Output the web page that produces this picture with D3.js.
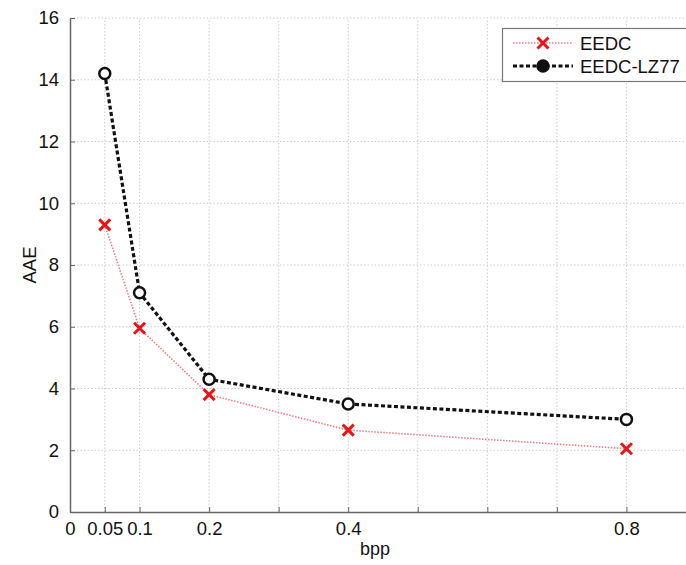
<!DOCTYPE html>
<html>
<head>
<meta charset="utf-8">
<script src="https://cdn.jsdelivr.net/npm/d3@7"></script>
<style>
  body { margin: 0; background: #fff; }
  text { font-family: Arial, "Liberation Sans", sans-serif; }
</style>
</head>
<body>
<div id="chart"></div>
<script>
const bpp = [0.05, 0.1, 0.2, 0.4, 0.8];
const eedc = [9.3, 5.95, 3.8, 2.65, 2.05];
const eedcLz77 = [14.2, 7.1, 4.3, 3.5, 3.0];
const xTicks = [0, 0.05, 0.1, 0.2, 0.3, 0.4, 0.5, 0.6, 0.7, 0.8, 0.9];
const xLabels = {0: "0", 0.05: "0.05", 0.1: "0.1", 0.2: "0.2", 0.4: "0.4", 0.8: "0.8"};
const yTicks = [0, 2, 4, 6, 8, 10, 12, 14, 16];
const seriesNames = ["EEDC", "EEDC-LZ77"];

const W = 686, H = 565;
const svg = d3.select("#chart").append("svg")
    .attr("width", W).attr("height", H);

const x = d3.scaleLinear().domain([0, 0.9]).range([70, 696]);
const y = d3.scaleLinear().domain([0, 16]).range([512, 18]);

// grid
svg.append("g").selectAll("line")
    .data(xTicks.filter(d => d > 0))
    .enter().append("line")
    .attr("x1", d => x(d)).attr("x2", d => x(d))
    .attr("y1", y(0)).attr("y2", y(16))
    .attr("stroke", "#ccc").attr("stroke-width", 1)
    .attr("stroke-dasharray", "1.5,2");

svg.append("g").selectAll("line")
    .data(yTicks.filter(d => d > 0))
    .enter().append("line")
    .attr("x1", x(0)).attr("x2", W)
    .attr("y1", d => y(d)).attr("y2", d => y(d))
    .attr("stroke", "#ccc").attr("stroke-width", 1)
    .attr("stroke-dasharray", "1.5,2");

// axes (ticks pointing inward)
const xAxis = svg.append("g")
    .attr("transform", `translate(0,${y(0)})`)
    .call(d3.axisBottom(x).tickValues(xTicks).tickSizeInner(-5).tickSizeOuter(0)
        .tickPadding(10).tickFormat(d => xLabels[d] !== undefined ? xLabels[d] : ""));
xAxis.attr("font-size", 18.5).attr("font-family", "Arial, 'Liberation Sans', sans-serif");
xAxis.select(".domain").attr("stroke", "#666").attr("stroke-width", 1.5);
xAxis.selectAll(".tick line").attr("stroke", "#666");
xAxis.selectAll(".tick text").attr("fill", "#111");

const yAxis = svg.append("g")
    .attr("transform", `translate(${x(0)},0)`)
    .call(d3.axisLeft(y).tickValues(yTicks).tickSizeInner(-5).tickSizeOuter(0)
        .tickPadding(11).tickFormat(d3.format("d")));
yAxis.attr("font-size", 18.5).attr("font-family", "Arial, 'Liberation Sans', sans-serif");
yAxis.select(".domain").attr("stroke", "#666").attr("stroke-width", 1.5);
yAxis.selectAll(".tick line").attr("stroke", "#666");
yAxis.selectAll(".tick text").attr("fill", "#111");

// axis titles
svg.append("text")
    .attr("x", 375).attr("y", 555)
    .attr("text-anchor", "middle")
    .attr("font-size", 18).attr("fill", "#111")
    .text("bpp");

svg.append("text")
    .attr("transform", `translate(36,${(y(0) + y(16)) / 2}) rotate(-90)`)
    .attr("text-anchor", "middle")
    .attr("font-size", 18.5).attr("fill", "#111")
    .text("AAE");

const line = d3.line().x(d => x(d[0])).y(d => y(d[1]));
const redPts = bpp.map((b, i) => [b, eedc[i]]);
const blackPts = bpp.map((b, i) => [b, eedcLz77[i]]);

// EEDC
svg.append("path")
    .datum(redPts)
    .attr("d", line)
    .attr("fill", "none")
    .attr("stroke", "#f08080").attr("stroke-width", 1.6)
    .attr("stroke-dasharray", "1.5,1.5");

function cross(g, cx, cy, s) {
    g.append("path")
        .attr("d", `M${cx - s},${cy - s}L${cx + s},${cy + s}M${cx - s},${cy + s}L${cx + s},${cy - s}`)
        .attr("stroke", "#e8141a").attr("stroke-width", 3).attr("fill", "none");
}
const redMarks = svg.append("g");
redPts.forEach(d => cross(redMarks, x(d[0]), y(d[1]), 5.5));

// EEDC-LZ77
svg.append("path")
    .datum(blackPts)
    .attr("d", line)
    .attr("fill", "none")
    .attr("stroke", "#111").attr("stroke-width", 3.2)
    .attr("stroke-dasharray", "4,2.5");

svg.append("g").selectAll("circle")
    .data(blackPts)
    .enter().append("circle")
    .attr("cx", d => x(d[0])).attr("cy", d => y(d[1]))
    .attr("r", 5.5)
    .attr("fill", "#fff").attr("stroke", "#111").attr("stroke-width", 2.5);

// legend
const lg = svg.append("g");
lg.append("rect")
    .attr("x", 502.5).attr("y", 28.5).attr("width", 200).attr("height", 53)
    .attr("fill", "#fff").attr("stroke", "#777").attr("stroke-width", 1.2);

lg.append("line")
    .attr("x1", 513).attr("x2", 573).attr("y1", 43).attr("y2", 43)
    .attr("stroke", "#f08080").attr("stroke-width", 1.6).attr("stroke-dasharray", "1.5,1.5");
cross(lg, 543, 43, 5.5);

lg.append("line")
    .attr("x1", 513).attr("x2", 573).attr("y1", 66).attr("y2", 66)
    .attr("stroke", "#111").attr("stroke-width", 3.2).attr("stroke-dasharray", "4,2.5");
lg.append("circle")
    .attr("cx", 543).attr("cy", 66).attr("r", 5.5)
    .attr("fill", "#111").attr("stroke", "#111").attr("stroke-width", 2.5);

lg.selectAll("text.lab")
    .data(seriesNames)
    .enter().append("text")
    .attr("class", "lab")
    .attr("x", 580).attr("y", (d, i) => 49.5 + i * 23)
    .attr("font-size", 18.5).attr("fill", "#111")
    .text(d => d);
</script>
</body>
</html>
